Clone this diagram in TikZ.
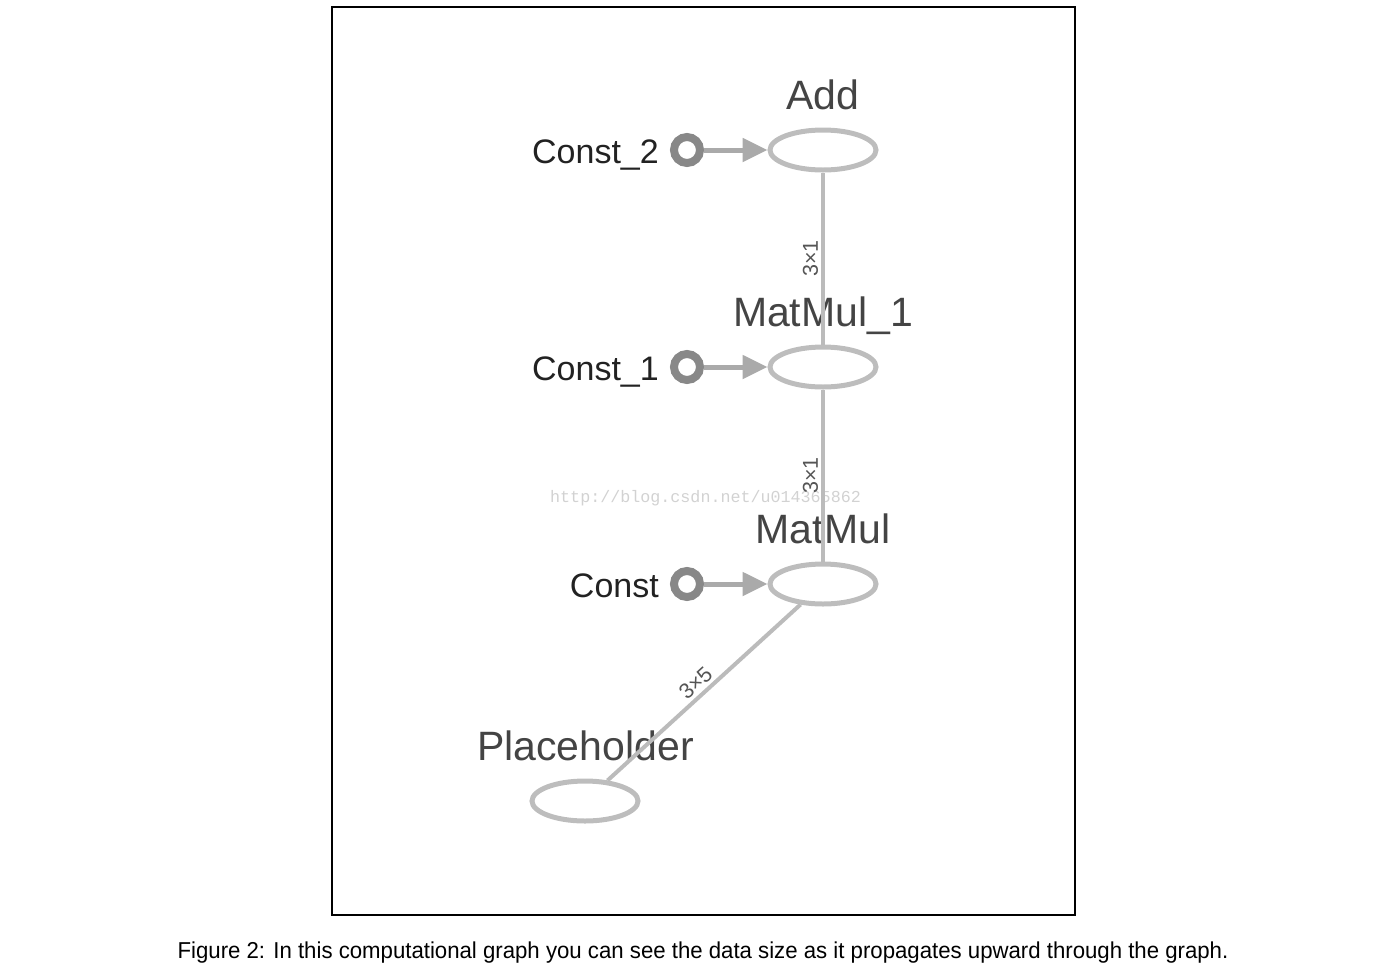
\documentclass[tikz,border=0pt]{standalone}
\usepackage{fontspec}
\setmainfont{Liberation Sans}
\newfontfamily\capfont[FakeStretch=0.965]{Liberation Sans}
\newfontfamily\wmfont{Liberation Mono}
\usetikzlibrary{shapes.geometric,arrows.meta}
\definecolor{ellgray}{HTML}{BDBDBD}
\definecolor{edgegray}{HTML}{BBBBBB}
\definecolor{circgray}{HTML}{888888}
\definecolor{tipgray}{HTML}{AAAAAA}
\definecolor{optext}{HTML}{444444}
\definecolor{consttext}{HTML}{222222}
\definecolor{shapetext}{HTML}{555555}
\definecolor{wmgray}{HTML}{D2D2D2}
\tikzset{
  opnode/.style={ellipse,draw=ellgray,line width=5pt,minimum width=106pt,minimum height=40pt,inner sep=0pt},
  oplabel/.style={anchor=base,text=optext,font=\fontsize{41}{41}\selectfont,inner sep=0pt},
  constnode/.style={circle,draw=circgray,line width=8pt,minimum size=26pt,inner sep=0pt},
  constlabel/.style={anchor=base east,text=consttext,font=\fontsize{34}{34}\selectfont,inner sep=0pt},
  constedge/.style={draw=tipgray,line width=5pt,-{Triangle[length=25pt,width=23pt]}},
  dataedge/.style={draw=edgegray,line width=4pt},
  shapelabel/.style={text=shapetext,font=\fontsize{21.5}{21.5}\selectfont,inner sep=3pt,midway,sloped,above}
}
\begin{document}
\begin{tikzpicture}[x=1pt,y=-1pt]
\useasboundingbox (0,0) rectangle (1392,970);
\node (frame) [draw=black,line width=1.2pt,minimum width=743pt,minimum height=908pt,inner sep=0pt] at (703.5,461) {};
% watermark
\node (wm) [anchor=base west,text=wmgray,font=\wmfont\fontsize{16.7}{16.7}\selectfont,inner sep=0pt] at (550,502) {http://blog.csdn.net/u014365862};
% op nodes
\node (add) [opnode] at (823,150) {};
\node (mm1) [opnode] at (823,367) {};
\node (mm) [opnode] at (823,584) {};
\node (ph) [opnode] at (585,801) {};
\node (addl) [oplabel] at (823,109) {Add};
\node (mm1l) [oplabel] at (823,326) {MatMul\_1};
\node (mml) [oplabel] at (823,543) {MatMul};
\node (phl) [oplabel] at (585.5,760) {Placeholder};
% const nodes
\node (c2) [constnode] at (687,150) {};
\node (c1) [constnode] at (687,367) {};
\node (c0) [constnode] at (687,584) {};
\node (c2l) [constlabel] at (659,163) {Const\_2};
\node (c1l) [constlabel] at (659,380) {Const\_1};
\node (c0l) [constlabel] at (659,597) {Const};
% edges
\draw[constedge] (c2) -- (add);
\draw[constedge] (c1) -- (mm1);
\draw[constedge] (c0) -- (mm);
\draw[dataedge] (mm1) -- node[shapelabel] {3×1} (add);
\draw[dataedge] (mm) -- node[shapelabel] {3×1} (mm1);
\draw[dataedge] (ph) -- node[shapelabel] {3×5} (mm);
% caption
\node (cap) [anchor=base,text=black,font=\capfont\fontsize{23}{23}\selectfont,inner sep=0pt] at (703,958) {Figure 2: In this computational graph you can see the data size as it propagates upward through the graph.};
\end{tikzpicture}
\end{document}
